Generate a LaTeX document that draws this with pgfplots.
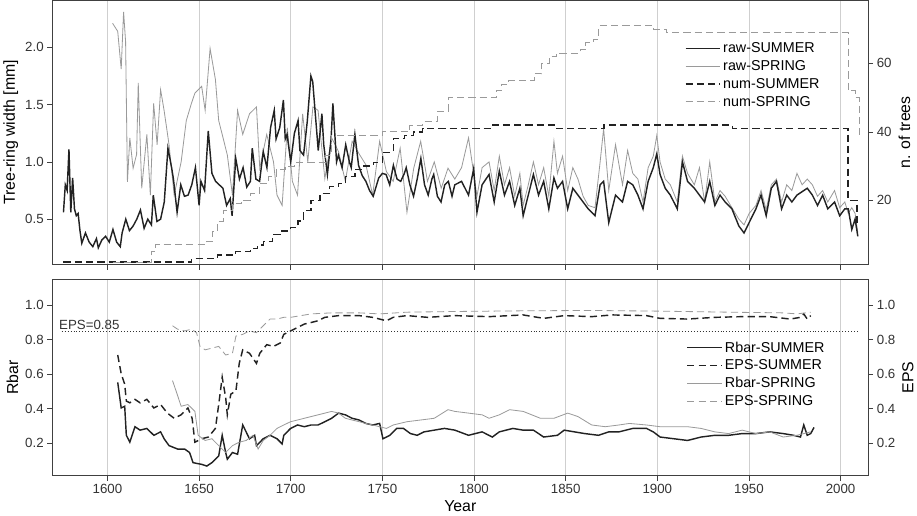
\documentclass[border=0pt]{standalone}
\usepackage{fontspec}
\setmainfont{Liberation Sans}
\usepackage{pgfplots}
\pgfplotsset{compat=1.18}
\definecolor{dk}{HTML}{222222}
\definecolor{gr}{HTML}{9A9A9A}
\definecolor{gridc}{HTML}{CFCFCF}
\begin{document}
\begin{tikzpicture}
\pgfplotsset{
 base/.style={scale only axis, width=794bp, xmin=1570, xmax=2015,
  /pgf/number format/assume math mode=true,
  tick label style={font=\fontsize{13}{15}\selectfont, color=black!80},
  label style={font=\fontsize{15.5}{17}\selectfont},
  tick align=outside, axis line style={black!75, line width=0.8pt},
  tick style={black!75, line width=0.6pt}, major tick length=5bp,
  xtick={1600,1650,...,2000},
  /pgf/number format/1000 sep={},
  legend style={draw=none, fill=none, font=\fontsize{14}{16}\selectfont, row sep=2bp},
  legend image code/.code={\draw[##1] (0bp,0bp) -- (34bp,0bp);},
  legend cell align=left},
 rs/.style={dk, line width=1.4pt},
 rp/.style={gr, line width=0.8pt},
 ns/.style={dk, line width=1.4pt, dash pattern=on 7bp off 4bp},
 np/.style={gr, line width=0.8pt, dash pattern=on 7bp off 4bp},
}
% ---------------- TOP PANEL -----------------
\begin{axis}[base, at={(0bp,0bp)}, anchor=north west, height=257bp,
  ymin=0.105, ymax=2.41, ytick={0.5,1.0,1.5,2.0},
  yticklabel style={/pgf/number format/.cd, fixed, fixed zerofill, precision=1},
  ytick pos=left, xtick pos=bottom, xticklabels={},
  xmajorgrids, grid style={gridc, line width=0.8pt},
  ylabel={Tree-ring width [mm]}]
\addplot[rp] coordinates {
(1602.8,2.21)(1605.6,2.14)(1607.5,1.81)(1608.8,2.31)(1609.9,2.05)(1610.9,0.825)(1612.2,1.21)(1614.0,0.945)(1615.9,1.065)(1616.8,1.69)(1618.7,0.77)(1621.5,1.24)(1623.4,0.71)(1625.2,1.51)(1627.1,1.15)(1629.0,1.63)(1630.9,1.45)(1633.6,1.15)(1636.4,0.71)(1640.2,1.0)(1643.0,1.36)(1645.8,1.51)(1647.7,1.60)(1651.4,1.66)(1653.3,1.45)(1656.0,1.99)(1658.9,1.72)(1660.7,1.36)(1662.6,1.24)(1665.4,1.06)(1668.2,0.71)(1671.0,1.45)(1673.8,1.24)(1677.5,1.42)(1681.3,1.48)(1683.1,0.945)(1686.9,1.24)(1690.6,1.0)(1692.5,0.71)(1695.3,0.62)(1698.1,1.30)(1700.9,0.83)(1703.7,0.71)(1706.5,1.42)(1709.3,1.0)(1712.1,1.48)(1714.9,1.45)(1718.6,0.855)(1722.3,1.21)(1726.1,1.09)(1729.8,0.83)(1733.5,1.18)(1737.3,1.07)(1741.0,0.975)(1744.7,0.71)(1748.5,1.18)(1752.2,0.915)(1755.9,0.83)(1759.7,1.12)(1763.4,0.56)(1767.1,0.945)(1770.9,1.18)(1774.6,0.83)(1778.3,1.0)(1782.1,0.77)(1785.8,0.945)
(1789.5,0.85)(1793.2,0.95)(1797.0,1.21)(1799.8,0.90)(1801.6,0.70)(1804.4,0.95)(1808.2,1.00)(1811.0,0.75)(1813.8,1.05)(1816.6,0.80)(1819.4,0.95)(1822.2,0.70)(1825.0,0.90)(1826.8,0.62)(1829.6,0.80)(1832.4,1.00)(1835.2,0.80)(1838.0,0.95)(1840.8,0.70)(1843.6,1.18)(1845.5,0.90)(1848.3,1.05)(1851.1,0.75)(1853.9,0.95)(1856.7,0.85)(1859.5,0.70)(1862.3,0.62)(1866.0,0.60)(1868.8,1.00)(1870.7,1.29)(1873.5,0.75)(1877.2,1.15)(1881.0,0.80)(1883.8,1.10)(1886.6,0.90)(1889.4,0.85)(1892.2,0.65)(1895.0,0.95)(1897.8,1.05)(1899.7,1.23)(1901.5,1.00)(1904.3,0.85)(1907.1,0.80)(1910.9,0.65)(1913.7,1.05)(1916.5,0.90)(1920.2,0.80)(1923.0,0.95)(1925.8,0.65)(1928.6,1.00)(1931.4,0.65)(1934.2,0.75)(1937.0,0.70)(1940.7,0.60)(1944.5,0.50)(1947.3,0.45)(1950.1,0.55)(1953.8,0.62)(1956.6,0.75)(1959.4,0.58)(1962.2,0.80)(1965.0,0.85)(1967.8,0.65)(1970.6,0.80)(1973.4,0.75)(1976.2,0.90)(1979.0,0.80)(1981.8,0.85)(1984.6,0.80)(1987.4,0.70)(1990.2,0.75)(1993.0,0.65)(1996.7,0.75)(1999.5,0.60)(2002.3,0.65)(2004.2,0.55)(2006.1,0.60)(2007.9,0.55)(2009.4,0.38)};
\addplot[rs] coordinates {
(1576,0.56)(1577,0.80)(1578,0.75)(1579,1.11)(1580,0.56)(1581,0.86)(1582,0.59)(1583,0.53)(1584,0.55)(1585,0.40)(1586,0.29)(1588,0.38)(1590,0.30)(1592,0.26)(1594,0.33)(1595,0.25)(1597,0.32)(1599,0.35)(1601,0.30)(1603,0.41)(1605,0.30)(1607,0.26)(1608,0.38)(1610,0.50)(1612,0.40)(1614,0.44)(1616,0.50)(1618,0.58)(1620,0.42)(1622,0.50)(1624,0.45)(1625,0.71)(1627,0.48)(1629,0.50)(1631,0.65)(1633,1.12)(1635,0.95)(1636,0.85)(1638,0.56)(1640,0.80)(1642,0.70)(1644,0.71)(1646,0.80)(1648,0.95)(1650,0.62)(1651,0.83)(1653,0.75)(1655,1.27)(1657,0.90)(1659,0.83)(1661,0.80)(1663,0.77)(1665,0.62)(1667,0.68)(1668,0.53)(1670,1.03)(1672,0.85)(1674,0.95)(1676,0.78)(1678,0.83)(1679,1.12)(1681,0.85)(1683,0.83)(1685,1.09)(1687,0.95)(1689,1.30)(1691,1.45)(1692,1.20)(1694,1.30)(1696,1.54)(1697,1.20)(1698,1.24)(1700,1.00)(1702,1.25)(1704,1.36)(1705,1.10)(1707,1.06)(1709,1.35)(1711,1.75)(1712,1.70)(1714,1.30)(1715,1.10)(1717,1.42)(1718,1.15)(1720,0.89)(1722,1.20)(1723,1.51)(1725,1.00)(1726,1.06)(1728,0.95)(1730,1.15)(1732,1.00)(1733,0.95)(1735,1.24)(1737,0.97)(1739,0.88)(1741,0.83)(1743,0.75)(1745,0.70)(1748,0.86)(1750,0.90)(1752,0.89)(1754,0.80)(1756,0.97)(1758,0.85)(1760,0.83)(1762,0.90)(1763,0.95)(1765,0.80)(1767,0.70)(1769,0.85)(1771,1.03)(1773,0.80)(1775,0.71)(1777,0.85)(1778,0.89)(1780,0.70)(1782,0.65)(1784,0.80)(1786,0.83)(1788,0.70)
(1789.5,0.80)(1793.2,0.83)(1797.0,0.71)(1799.8,0.94)(1801.6,0.56)(1804.4,0.80)(1808.2,0.89)(1811.0,0.65)(1813.8,0.92)(1816.6,0.71)(1819.4,0.83)(1822.2,0.62)(1825.0,0.77)(1826.8,0.53)(1829.6,0.71)(1832.4,0.89)(1835.2,0.71)(1838.0,0.83)(1840.8,0.59)(1843.6,0.86)(1845.5,0.77)(1848.3,0.83)(1851.1,0.59)(1853.9,0.77)(1856.7,0.71)(1859.5,0.65)(1862.3,0.59)(1866.0,0.53)(1868.8,0.80)(1870.7,0.83)(1873.5,0.47)(1877.2,0.71)(1881.0,0.65)(1883.8,0.83)(1886.6,0.80)(1889.4,0.71)(1892.2,0.59)(1895.0,0.83)(1897.8,0.95)(1899.7,1.07)(1901.5,0.89)(1904.3,0.77)(1907.1,0.71)(1910.9,0.59)(1913.7,1.00)(1916.5,0.83)(1920.2,0.77)(1923.0,0.71)(1925.8,0.65)(1928.6,0.83)(1931.4,0.62)(1934.2,0.71)(1937.0,0.65)(1940.7,0.59)(1944.5,0.44)(1947.3,0.38)(1950.1,0.47)(1953.8,0.59)(1956.6,0.71)(1959.4,0.53)(1962.2,0.77)(1965.0,0.83)(1967.8,0.59)(1970.6,0.71)(1973.4,0.65)(1976.2,0.71)(1979.0,0.74)(1981.8,0.77)(1984.6,0.71)(1987.4,0.62)(1990.2,0.71)(1993.0,0.59)(1996.7,0.65)(1999.5,0.53)(2002.3,0.59)(2004.2,0.59)(2006.1,0.41)(2007.9,0.50)(2009.4,0.35)};
\end{axis}
\begin{axis}[base, at={(0bp,0bp)}, anchor=north west, height=257bp,
  ymin=1.3, ymax=78.4, ytick={20,40,60},
  axis y line*=right, axis x line=none,
  ylabel={n. of trees},
  legend style={at={(0.947,0.855)}, anchor=north east}]
\addlegendimage{rs}\addlegendentry{raw-SUMMER}
\addlegendimage{rp}\addlegendentry{raw-SPRING}
\addplot[ns, const plot] coordinates {
(1576,2)(1646,3)(1660,4)(1670,5)(1678,6)(1682,7)(1685,8)(1690,10)(1695,11)(1700,12)(1704,14)(1707,17)(1711,20)(1716,22)(1721,24)(1726,25)(1730,27)(1735,29)(1740,30)(1745,31)(1750,34)(1756,38)(1762,39)(1767,40)(1772,41)(1810,42)(1844,41)(1871,42)(1941,41)(2004,20)(2009,13)(2010,13)};
\addlegendentry{num-SUMMER}
\addplot[np, const plot] coordinates {
(1603,2)(1624,5)(1626,7)(1654,8)(1657,11)(1660,14)(1663,17)(1668,19)(1673,20)(1678,22)(1683,25)(1688,27)(1692,29)(1697,30)(1702,31)(1719,33)(1722,39)(1750,40)(1765,42)(1772,43)(1780,46)(1786,50)(1812,52)(1815,54)(1819,55)(1833,57)(1837,60)(1841,62)(1845,63)(1858,64)(1861,66)(1865,67)(1868,71)(1898,70)(1905,69)(2004,52)(2008,50)(2010,39)};
\addlegendentry{num-SPRING}
\end{axis}
% ---------------- BOTTOM PANEL -----------------
\begin{axis}[base, at={(0bp,-271.7bp)}, anchor=north west, height=191bp,
  ymin=0.009, ymax=1.15, ytick={0.2,0.4,...,1.0},
  yticklabel style={/pgf/number format/.cd, fixed, fixed zerofill, precision=1},
  ytick pos=left, xtick pos=bottom,
  xmajorgrids, grid style={gridc, line width=0.8pt},
  xlabel={Year}, ylabel={Rbar},
  legend style={at={(0.953,0.705)}, anchor=north east}]
\addplot[rs] coordinates {
(1605.6,0.552)(1607.5,0.403)(1609.4,0.413)(1610.3,0.244)(1612.2,0.204)(1615.0,0.294)(1617.8,0.274)(1621.5,0.284)(1623.4,0.264)(1625.3,0.244)(1629.0,0.264)(1630.9,0.224)(1633.6,0.184)(1638.3,0.164)(1642.1,0.164)(1644.8,0.144)(1646.7,0.085)(1651.4,0.075)(1654.2,0.065)(1657.0,0.085)(1660.7,0.124)(1662.6,0.244)(1664.5,0.144)(1665.4,0.105)(1668.2,0.144)(1671.0,0.134)(1673.8,0.304)(1677.5,0.224)(1680.3,0.244)(1681.3,0.184)(1685.0,0.224)(1688.7,0.244)(1692.5,0.224)(1695.3,0.194)(1696.2,0.244)(1699.9,0.284)(1703.7,0.304)(1707.4,0.294)(1711.1,0.304)(1714.9,0.304)(1718.6,0.323)(1722.3,0.343)(1726.1,0.373)(1729.8,0.363)(1733.5,0.343)(1737.3,0.333)(1741.0,0.313)(1744.7,0.304)(1748.5,0.313)(1750.3,0.224)(1754.1,0.244)(1757.8,0.284)(1761.5,0.284)(1765.3,0.254)(1769.0,0.244)(1772.7,0.264)(1778.3,0.274)(1783.9,0.284)(1789.5,0.274)
(1797.0,0.244)(1804.4,0.264)(1810.0,0.234)(1813.8,0.264)(1821.2,0.284)(1826.8,0.274)(1832.4,0.274)(1838.0,0.234)(1845.5,0.244)(1849.2,0.274)(1854.8,0.264)(1860.4,0.254)(1867.9,0.244)(1873.5,0.264)(1879.1,0.264)(1886.6,0.284)(1894.1,0.284)(1897.8,0.264)(1901.5,0.234)(1909.0,0.224)(1916.5,0.214)(1923.9,0.234)(1931.4,0.244)(1938.9,0.244)(1946.3,0.254)(1953.8,0.254)(1961.3,0.264)(1968.7,0.254)(1974.3,0.244)(1978.1,0.234)(1979.9,0.304)(1981.8,0.244)(1983.7,0.254)(1985.5,0.290)};
\addlegendentry{Rbar-SUMMER}
\addplot[ns] coordinates {
(1605.6,0.711)(1607.5,0.602)(1609.4,0.542)(1610.3,0.443)(1612.2,0.433)(1615.0,0.453)(1617.8,0.433)(1621.5,0.453)(1625.3,0.403)(1629.0,0.423)(1632.7,0.373)(1636.4,0.343)(1640.2,0.363)(1643.9,0.403)(1646.2,0.343)(1647.7,0.204)(1651.4,0.224)(1655.1,0.234)(1658.9,0.284)(1660.7,0.423)(1662.6,0.582)(1664.5,0.463)(1665.4,0.363)(1667.3,0.483)(1670.1,0.503)(1671.9,0.662)(1673.8,0.741)(1677.5,0.721)(1681.3,0.662)(1683.1,0.721)(1686.9,0.771)(1690.6,0.761)(1694.3,0.781)(1696.2,0.831)(1699.9,0.851)(1703.7,0.871)(1707.4,0.891)(1711.1,0.900)(1714.9,0.910)(1718.6,0.930)(1726.1,0.940)(1737.3,0.940)(1744.7,0.930)(1748.5,0.920)(1752.2,0.910)(1755.9,0.930)(1763.4,0.940)(1774.6,0.930)(1789.5,0.940)
(1808.2,0.934)(1826.8,0.944)(1838.0,0.924)(1849.2,0.940)(1864.2,0.934)(1875.4,0.944)(1894.1,0.940)(1901.5,0.924)(1916.5,0.920)(1931.4,0.930)(1946.3,0.934)(1961.3,0.934)(1972.5,0.920)(1978.1,0.930)(1979.9,0.950)(1981.8,0.920)(1983.7,0.940)};
\addlegendentry{EPS-SUMMER}
\addplot[rp] coordinates {
(1635.5,0.562)(1637.4,0.503)(1640.2,0.413)(1643.9,0.423)(1647.7,0.383)(1649.5,0.244)(1653.3,0.214)(1657.0,0.224)(1660.7,0.184)(1664.5,0.144)(1668.2,0.184)(1671.9,0.204)(1675.7,0.214)(1679.4,0.244)(1682.2,0.164)(1685.0,0.214)(1688.7,0.244)(1692.5,0.284)(1696.2,0.304)(1699.9,0.323)(1703.7,0.333)(1707.4,0.343)(1711.1,0.353)(1714.9,0.363)(1718.6,0.373)(1722.3,0.383)(1726.1,0.373)(1729.8,0.343)(1733.5,0.333)(1737.3,0.323)(1741.0,0.313)(1744.7,0.304)(1748.5,0.294)(1752.2,0.284)(1755.9,0.304)(1763.4,0.323)(1770.9,0.333)(1778.3,0.343)(1785.8,0.393)(1789.5,0.383)
(1797.0,0.373)(1804.4,0.363)(1808.2,0.343)(1813.8,0.363)(1819.4,0.393)(1826.8,0.383)(1836.2,0.343)(1843.6,0.343)(1851.1,0.373)(1856.7,0.353)(1864.2,0.304)(1871.6,0.294)(1879.1,0.304)(1884.7,0.313)(1894.1,0.304)(1901.5,0.294)(1909.0,0.294)(1916.5,0.294)(1923.9,0.284)(1931.4,0.264)(1938.9,0.254)(1946.3,0.274)(1953.8,0.254)(1961.3,0.264)(1968.7,0.234)(1976.2,0.244)(1979.9,0.254)(1983.7,0.264)};
\addlegendentry{Rbar-SPRING}
\addplot[np] coordinates {
(1635.5,0.881)(1638.3,0.861)(1642.1,0.851)(1645.8,0.861)(1648.6,0.841)(1650.5,0.761)(1653.3,0.741)(1657.0,0.751)(1660.7,0.761)(1664.5,0.711)(1668.2,0.721)(1670.1,0.821)(1673.8,0.831)(1677.5,0.851)(1681.3,0.841)(1685.0,0.881)(1688.7,0.920)(1692.5,0.920)(1696.2,0.930)(1699.9,0.930)(1711.1,0.950)(1722.3,0.956)(1737.3,0.956)(1748.5,0.950)(1763.4,0.960)(1789.5,0.964)(1826.8,0.968)(1864.2,0.970)(1901.5,0.966)(1938.9,0.960)(1968.7,0.956)(1976.2,0.950)(1983.7,0.960)};
\addlegendentry{EPS-SPRING}
\addplot[black!80, line width=0.9pt, dotted, forget plot] coordinates {(1575,0.85)(2010,0.85)};
\node[anchor=south west, inner sep=1bp, font=\fontsize{13}{15}\selectfont, color=black!80] at (axis cs:1573,0.85) {EPS=0.85};
\end{axis}
\begin{axis}[base, at={(0bp,-271.7bp)}, anchor=north west, height=191bp,
  ymin=0.009, ymax=1.15, ytick={0.2,0.4,...,1.0},
  yticklabel style={/pgf/number format/.cd, fixed, fixed zerofill, precision=1},
  axis y line*=right, axis x line=none, ylabel={EPS}]
\addplot[draw=none] coordinates {(1600,0.5)};
\end{axis}
\end{tikzpicture}
\end{document}
